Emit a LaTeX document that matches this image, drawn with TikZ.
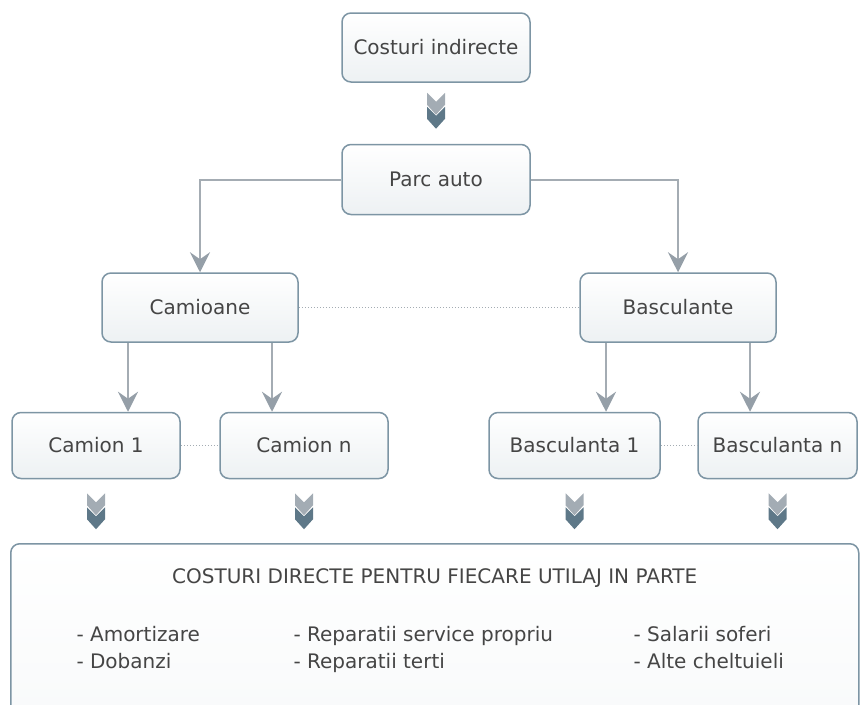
\documentclass[tikz,border=0pt]{standalone}
\usepackage{fontspec}
\setmainfont{DejaVu Sans}
\usepackage{tikz}
\usetikzlibrary{positioning,calc,arrows.meta}

\definecolor{boxline}{HTML}{7D95A4}
\definecolor{boxshade}{HTML}{EDF1F3}
\definecolor{lineg}{HTML}{A4ACB3}
\definecolor{tipg}{HTML}{959FA8}
\definecolor{chevlight}{HTML}{A3ACB4}
\definecolor{chevdark}{HTML}{5E7888}
\definecolor{txt}{HTML}{454545}

\tikzset{
	box/.style={draw=boxline, line width=1.5pt, rounded corners=9pt, top color=white, bottom color=boxshade, text=txt, font=\fontsize{20}{24}\selectfont},
	link/.style={draw=lineg, line width=2pt, -{Stealth[length=20pt,width=20pt,inset=7pt,color=tipg]}},
	dots/.style={draw=lineg, line width=1pt, dotted},
	item/.style={text=txt, font=\fontsize{20}{24}\selectfont, anchor=base west},
	chevron/.pic={
		\fill[chevlight] (-9,0) -- (0,-9) -- (9,0) -- (9,-12) -- (0,-22) -- (-9,-12) -- cycle;
		\fill[chevdark] (-9,-14) -- (0,-23) -- (9,-14) -- (9,-26) -- (0,-36) -- (-9,-26) -- cycle;
	}
}

\begin{document}
\begin{tikzpicture}[x=1pt,y=1pt]
		\useasboundingbox (0,0) rectangle (861,-704);
		\clip (0,0) rectangle (861,-704);
		
		\node[box, minimum width=188pt, minimum height=69pt] (indirecte) at (436,-47.5) {Costuri indirecte};
		\node[box, minimum width=188pt, minimum height=70pt, anchor=north, shift={(0,-61)}] (parc) at (indirecte.south) {Parc auto};
		\pic at ([yshift=-10]indirecte.south) {chevron};
		
		\node[box, minimum width=196pt, minimum height=69pt] (camioane) at (200,-307.5) {Camioane};
		\node[box, minimum width=196pt, minimum height=69pt] (basculante) at (678,-307.5) {Basculante};
		
		\node[box, minimum width=168pt, minimum height=66pt] (camion1) at (96,-445.5) {Camion 1};
		\node[box, minimum width=168pt, minimum height=66pt] (camionn) at (304,-445.5) {Camion n};
		\node[box, minimum width=171pt, minimum height=66pt] (basc1) at (574.5,-445.5) {Basculanta 1};
		\node[box, minimum width=159pt, minimum height=66pt] (bascn) at (777.5,-445.5) {Basculanta n};
		
		\draw[link] (parc.west) -| (camioane.north);
		\draw[link] (parc.east) -| (basculante.north);
		\draw[dots] (camioane.east) -- (basculante.west);
		
		\coordinate (a1) at ($(camioane.south)+(-72,0)$);
		\coordinate (a2) at ($(camioane.south)+(72,0)$);
		\coordinate (a3) at ($(basculante.south)+(-72,0)$);
		\coordinate (a4) at ($(basculante.south)+(72,0)$);
		\draw[link] (a1) -- (a1 |- camion1.north);
		\draw[link] (a2) -- (a2 |- camionn.north);
		\draw[link] (a3) -- (a3 |- basc1.north);
		\draw[link] (a4) -- (a4 |- bascn.north);
		
		\draw[dots] (camion1.east) -- (camionn.west);
		\draw[dots] (basc1.east) -- (bascn.west);
		
		\pic at ([yshift=-14]camion1.south) {chevron};
		\pic at ([yshift=-14]camionn.south) {chevron};
		\pic at ([yshift=-14]basc1.south) {chevron};
		\pic at ([yshift=-14]bascn.south) {chevron};
		
		% direct costs
		\node[box, bottom color=white!60!boxshade, anchor=north west, minimum width=848pt, minimum height=190pt] (directe) at (10,-543) {};
		\node[text=txt, font=\fontsize{20}{24}\selectfont, anchor=north, shift={(0,-22)}] (titlu) at (directe.north) {COSTURI DIRECTE PENTRU FIECARE UTILAJ IN PARTE};
		\node[item] (amort) at (73,-641) {- Amortizare};
		\node[item] (dob) at (73,-668) {- Dobanzi};
		\node[item] (rsp) at (290,-641) {- Reparatii service propriu};
		\node[item] (rt) at (290,-668) {- Reparatii terti};
		\node[item] (sal) at (630,-641) {- Salarii soferi};
		\node[item] (alte) at (630,-668) {- Alte cheltuieli};
	\end{tikzpicture}
\end{document}
